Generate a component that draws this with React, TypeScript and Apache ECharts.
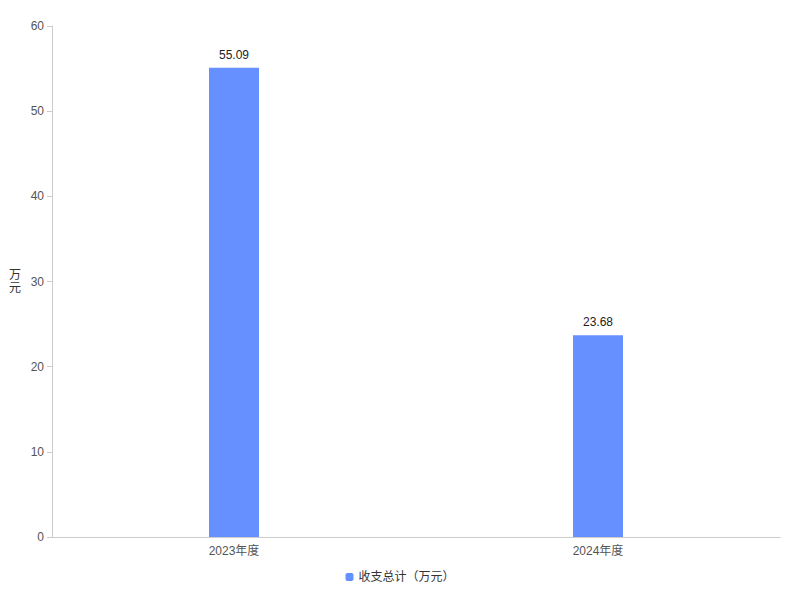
import React, { useEffect, useRef } from "react";
import * as echarts from "echarts";

const categories = ["2023年度", "2024年度"];
const values = [55.09, 23.68];
const seriesName = "收支总计（万元）";
const yAxisName = "万\n元";

export default function App() {
  const ref = useRef<HTMLDivElement>(null);
  useEffect(() => {
    const chart = echarts.init(ref.current!, null, { renderer: "svg" });
    chart.setOption({
      animation: false,
      textStyle: { fontFamily: "Liberation Sans, Noto Sans CJK SC, sans-serif" },
      grid: { left: 52, right: 20, top: 26, bottom: 63 },
      legend: {
        bottom: 12,
        left: "center",
        icon: "roundRect",
        itemWidth: 8,
        itemHeight: 8,
        textStyle: { color: "#333", fontSize: 12 },
        data: [seriesName],
      },
      xAxis: {
        type: "category",
        data: categories,
        axisTick: { alignWithLabel: true, lineStyle: { color: "#ccc" } },
        axisLine: { lineStyle: { color: "#ccc" } },
        axisLabel: { color: "#555", fontSize: 12 },
      },
      yAxis: {
        type: "value",
        min: 0,
        max: 60,
        interval: 10,
        name: yAxisName,
        nameLocation: "middle",
        nameRotate: 0,
        nameGap: 31,
        nameTextStyle: { color: "#333", fontSize: 12, lineHeight: 13, padding: [0, 0, 14, 0] },
        axisLine: { show: true, lineStyle: { color: "#ccc" } },
        axisTick: { show: true, lineStyle: { color: "#ccc" } },
        splitLine: { show: false },
        axisLabel: { color: "#555", fontSize: 12 },
      },
      series: [
        {
          name: seriesName,
          type: "bar",
          data: values,
          barWidth: 50,
          itemStyle: { color: "#6690ff" },
          label: { show: true, position: "top", distance: 7, color: "#222", fontSize: 12 },
        },
      ],
    });
    return () => chart.dispose();
  }, []);
  return (
    <div
      ref={ref}
      style={{ position: "absolute", left: 0, top: 0, width: 800, height: 600 }}
    />
  );
}
